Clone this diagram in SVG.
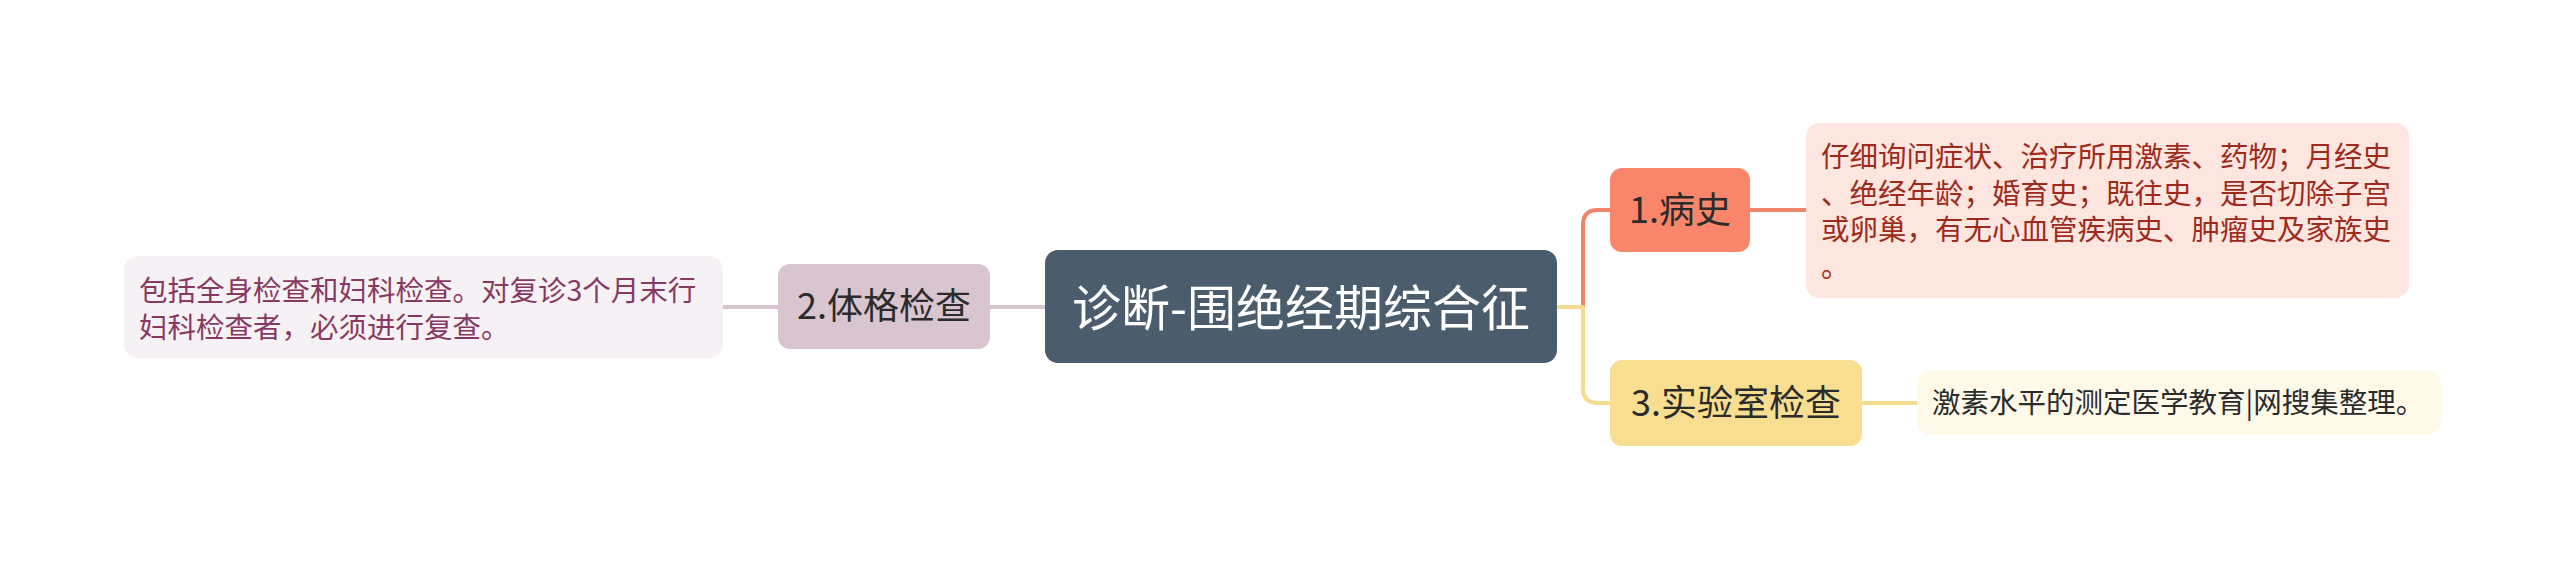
<svg xmlns="http://www.w3.org/2000/svg" width="2560" height="569" viewBox="0 0 2560 569">
<style>
  .cjk { font-family: "Noto Sans CJK SC", "Noto Sans", sans-serif; }
  .node-text { font-size: 36px; fill: #2b2b2b; text-anchor: middle; }
  .detail-text { font-size: 28.5px; }
  .conn { fill: none; stroke-width: 4; stroke-linecap: round; stroke-linejoin: round; }
</style>
<rect x="0" y="0" width="2560" height="569" fill="#ffffff"/>
<g id="connectors">
  <path class="conn" stroke="#d6c5cd" d="M723,307 H778"/>
  <path class="conn" stroke="#d6c5cd" d="M990,307 H1045"/>
  <path class="conn" stroke="#f08468" d="M1583,307 V225 Q1583,210 1598,210 H1610"/>
  <path class="conn" stroke="#f5dc8e" d="M1557,307 H1583 V388 Q1583,403 1598,403 H1610"/>
  <path class="conn" stroke="#f08468" d="M1750,210 H1806"/>
  <path class="conn" stroke="#f5dc8e" d="M1862,403 H1917"/>
</g>
<g id="center">
  <rect x="1045" y="250" width="512" height="113" rx="13" fill="#4b5d6c"/>
  <text class="cjk" x="1301" y="326" font-size="49" fill="#ffffff" text-anchor="middle">诊断-围绝经期综合征</text>
</g>
<g id="node-2">
  <rect x="778" y="264" width="212" height="85" rx="12" fill="#d8c5cf"/>
  <text class="cjk node-text" x="884" y="319">2.体格检查</text>
</g>
<g id="detail-2">
  <rect x="124" y="256" width="599" height="102" rx="14" fill="#f6f1f4"/>
  <text class="cjk detail-text" fill="#873a61">
    <tspan x="139" y="301">包括全身检查和妇科检查。对复诊3个月末行</tspan>
    <tspan x="139" y="337.5">妇科检查者，必须进行复查。</tspan>
  </text>
</g>
<g id="node-1">
  <rect x="1610" y="168" width="140" height="84" rx="12" fill="#f9866a"/>
  <text class="cjk node-text" x="1680" y="223">1.病史</text>
</g>
<g id="detail-1">
  <rect x="1806" y="123" width="603" height="175" rx="14" fill="#fde6df"/>
  <text class="cjk detail-text" fill="#9e2a1c">
    <tspan x="1821" y="167">仔细询问症状、治疗所用激素、药物；月经史</tspan>
    <tspan x="1821" y="203.5">、绝经年龄；婚育史；既往史，是否切除子宫</tspan>
    <tspan x="1821" y="240">或卵巢，有无心血管疾病史、肿瘤史及家族史</tspan>
    <tspan x="1821" y="276.5">。</tspan>
  </text>
</g>
<g id="node-3">
  <rect x="1610" y="360" width="252" height="86" rx="12" fill="#f7de90"/>
  <text class="cjk node-text" x="1736" y="416">3.实验室检查</text>
</g>
<g id="detail-3">
  <rect x="1917" y="371" width="524" height="64" rx="14" fill="#fef9e8"/>
  <text class="cjk detail-text" x="1932" y="413" font-size="28" fill="#2b2b2b">激素水平的测定医学教育|网搜集整理。</text>
</g>
</svg>
